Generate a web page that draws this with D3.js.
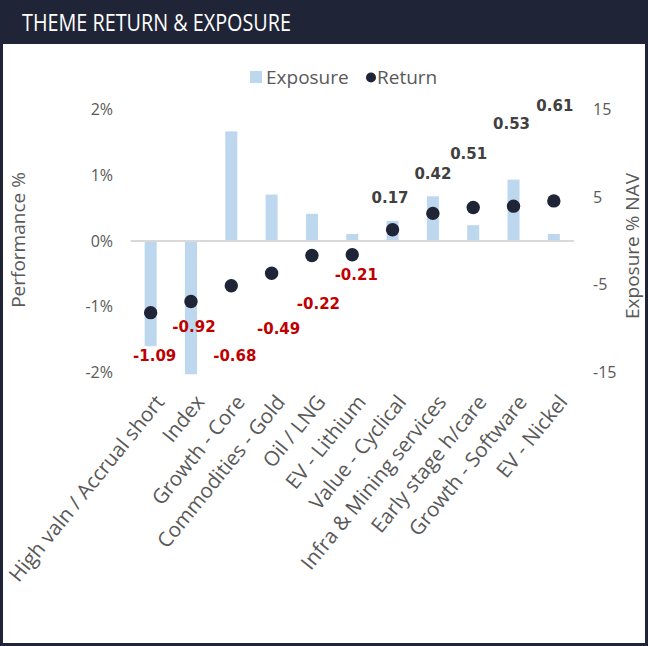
<!DOCTYPE html>
<html>
<head>
<meta charset="utf-8">
<script src="https://cdn.jsdelivr.net/npm/d3@7"></script>
<style>
  body { margin: 0; background: #fff; }
  svg { display: block; }
</style>
</head>
<body>
<script>
const categories = ["High valn / Accrual short", "Index", "Growth - Core", "Commodities - Gold",
  "Oil / LNG", "EV - Lithium", "Value - Cyclical", "Infra & Mining services",
  "Early stage h/care", "Growth - Software", "EV - Nickel"];
const exposure = [-12, -15.2, 12.5, 5.3, 3.1, 0.8, 2.3, 5.1, 1.8, 7.0, 0.8];
const returns = [-1.09, -0.92, -0.68, -0.49, -0.22, -0.21, 0.17, 0.42, 0.51, 0.53, 0.61];
const leftTicks = [-2, -1, 0, 1, 2];
const rightTicks = [-15, -5, 5, 15];

// hand-placed label nudges (px from the dot), like the original
const labelDx = [4, 3, 3.5, 7, 6.5, 4, -2.5, 0, -4.5, -2, 1];
const labelDy = [43, 25, 70, 56, 48, 20, -32, -40, -54, -82, -95];

const width = 648, height = 646;
const navy = "#1f2537", grey = "#595959";

const svg = d3.select("body").append("svg")
  .attr("width", width)
  .attr("height", height)
  .style("font-family", "'Open Sans', sans-serif");

// title bar
svg.append("rect")
  .attr("x", 0).attr("y", 0)
  .attr("width", width).attr("height", 44)
  .attr("fill", navy);

svg.append("text")
  .attr("x", 22).attr("y", 31)
  .attr("fill", "#fff")
  .attr("font-size", 24)
  .attr("textLength", 269)
  .attr("lengthAdjust", "spacingAndGlyphs")
  .text("THEME RETURN & EXPOSURE");

svg.append("rect")
  .attr("x", 1.5).attr("y", 1.5)
  .attr("width", width - 3).attr("height", height - 3)
  .attr("fill", "none")
  .attr("stroke", navy)
  .attr("stroke-width", 3);

const x = d3.scaleBand()
  .domain(categories)
  .range([130.5, 574]);

const y = d3.scaleLinear()
  .domain([-2, 2])
  .range([372.5, 109.5]);

const y2 = d3.scaleLinear()
  .domain([-15, 15])
  .range([372.5, 109.5]);

// left axis
svg.append("g")
  .selectAll("text")
  .data(leftTicks)
  .join("text")
  .attr("x", 113)
  .attr("y", d => y(d))
  .attr("dy", "0.35em")
  .attr("text-anchor", "end")
  .attr("font-size", 16)
  .attr("fill", grey)
  .text(d => d + "%");

// right axis
svg.append("g")
  .selectAll("text")
  .data(rightTicks)
  .join("text")
  .attr("x", 593)
  .attr("y", d => y2(d))
  .attr("dy", "0.35em")
  .attr("font-size", 16)
  .attr("fill", grey)
  .text(d => d);

svg.append("text")
  .attr("transform", "translate(25,240) rotate(-90)")
  .attr("text-anchor", "middle")
  .attr("font-size", 19)
  .attr("fill", grey)
  .text("Performance %");

svg.append("text")
  .attr("transform", "translate(639,246) rotate(-90)")
  .attr("text-anchor", "middle")
  .attr("font-size", 19)
  .attr("fill", grey)
  .text("Exposure % NAV");

// exposure bars
const barW = 12;
svg.append("g")
  .selectAll("rect")
  .data(exposure)
  .join("rect")
  .attr("x", (d, i) => x(categories[i]) + x.bandwidth() / 2 - barW / 2)
  .attr("y", d => y2(Math.max(0, d)))
  .attr("width", barW)
  .attr("height", d => Math.abs(y2(d) - y2(0)))
  .attr("fill", "#bdd7ee");

// zero line
svg.append("line")
  .attr("x1", x.range()[0]).attr("x2", x.range()[1])
  .attr("y1", y(0)).attr("y2", y(0))
  .attr("stroke", "#d9d9d9")
  .attr("stroke-width", 2);

// return dots
svg.append("g")
  .selectAll("circle")
  .data(returns)
  .join("circle")
  .attr("cx", (d, i) => x(categories[i]) + x.bandwidth() / 2)
  .attr("cy", d => y(d))
  .attr("r", 6.7)
  .attr("fill", navy);

svg.append("g")
  .selectAll("text")
  .data(returns)
  .join("text")
  .attr("x", (d, i) => x(categories[i]) + x.bandwidth() / 2 + labelDx[i])
  .attr("y", (d, i) => y(d) + labelDy[i])
  .attr("dy", "0.35em")
  .attr("text-anchor", "middle")
  .attr("font-family", "'DejaVu Sans', sans-serif")
  .attr("font-weight", "bold")
  .attr("font-size", 15)
  .attr("fill", d => d < 0 ? "#c00000" : "#404040")
  .text(d => d.toFixed(2));

// category labels
svg.append("g")
  .selectAll("text")
  .data(categories)
  .join("text")
  .attr("transform", d => `translate(${x(d) + x.bandwidth() / 2 + 9},${398}) rotate(-51)`)
  .attr("text-anchor", "end")
  .attr("dy", "0.35em")
  .attr("font-size", 20.5)
  .attr("fill", grey)
  .text(d => d);

// legend
const legend = svg.append("g").attr("font-size", 19).attr("fill", grey);
legend.append("rect")
  .attr("x", 250).attr("y", 71)
  .attr("width", 12).attr("height", 12)
  .attr("fill", "#bdd7ee");
legend.append("text")
  .attr("x", 266).attr("y", 77).attr("dy", "0.35em")
  .text("Exposure");
legend.append("circle")
  .attr("cx", 371).attr("cy", 77.5).attr("r", 5)
  .attr("fill", navy);
legend.append("text")
  .attr("x", 377).attr("y", 77).attr("dy", "0.35em")
  .text("Return");
</script>
</body>
</html>
